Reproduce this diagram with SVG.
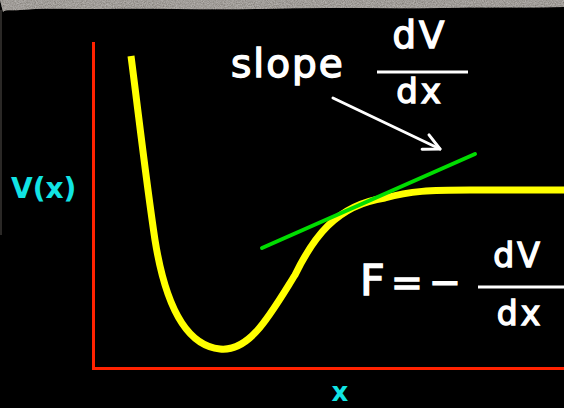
<svg xmlns="http://www.w3.org/2000/svg" width="564" height="408" viewBox="0 0 564 408">
  <defs>
    <filter id="grain" x="0" y="0" width="100%" height="100%">
      <feTurbulence type="fractalNoise" baseFrequency="0.9" numOctaves="2" seed="3" result="n"/>
      <feColorMatrix in="n" type="matrix" values="0 0 0 0 0.5  0 0 0 0 0.48  0 0 0 0 0.46  0 0 0 1.2 -0.1" result="c"/>
      <feComposite in="c" in2="SourceGraphic" operator="in" result="t"/>
      <feMerge><feMergeNode in="SourceGraphic"/><feMergeNode in="t"/></feMerge>
    </filter>
    <marker id="openhead" viewBox="0 0 20 20" refX="18" refY="10" markerWidth="20" markerHeight="20" markerUnits="userSpaceOnUse" orient="auto">
      <path d="M2,2 L18,10 L2,18" fill="none" stroke="#ffffff" stroke-width="3" stroke-linecap="round" stroke-linejoin="round"/>
    </marker>
    <style>
      .axis { fill: none; stroke: #ff2200; stroke-width: 3; }
      .curve { fill: none; stroke: #ffff00; stroke-width: 7; stroke-linejoin: round; }
      .tangent { fill: none; stroke: #00dd00; stroke-width: 4; stroke-linecap: round; }
      .pointer { fill: none; stroke: #ffffff; stroke-width: 3; stroke-linecap: round; }
      .bar { fill: none; stroke: #ffffff; stroke-width: 3; }
      .wt { fill: #ffffff; stroke: #ffffff; stroke-width: 1.4; font-family: "DejaVu Sans", "Liberation Sans", sans-serif; }
      .cy { fill: #11e4e4; font-family: "DejaVu Sans", "Liberation Sans", sans-serif; font-weight: bold; }
    </style>
  </defs>

  <rect x="0" y="0" width="564" height="408" fill="#000000"/>
  <g id="border">
    <path d="M0,0 H564 V7 C520,8 480,7 440,8 C380,9 320,7 260,9 C200,10 150,8 100,9 C60,9 40,8 20,10 C12,11 6,9 3,12 Z" fill="#7f7a75" filter="url(#grain)"/>
    <rect x="0" y="10" width="2" height="225" fill="#2a2826"/>
  </g>

  <g id="axes">
    <path class="axis" d="M93.5,42 V368.5 H564"/>
  </g>

  <g id="potential-curve">
    <path class="curve" d="M131,56 C138,110 146,180 155,240 C163,290 180,345 220,349 C250,352 270,315 295,275 C312,240 335,205 385,198 C410,191 430,190 470,190 L564,190"/>
  </g>

  <g id="connectors">
    <line class="tangent" x1="262" y1="248" x2="475" y2="154"/>
    <line class="pointer" x1="333" y1="98" x2="440" y2="149" marker-end="url(#openhead)"/>
  </g>

  <g id="label-vx">
    <text class="cy" x="11" y="198" font-size="28">V(x)</text>
  </g>
  <g id="label-x">
    <text class="cy" x="340" y="401" font-size="26" text-anchor="middle">x</text>
  </g>

  <g id="slope-label">
    <text class="wt" x="231" y="77" font-size="39" letter-spacing="2">slope</text>
    <text class="wt" x="420" y="48" font-size="37" text-anchor="middle" letter-spacing="3">dV</text>
    <line class="bar" x1="377" y1="72" x2="468" y2="72"/>
    <text class="wt" x="420" y="103" font-size="34" text-anchor="middle" letter-spacing="3">dx</text>
  </g>

  <g id="force-label">
    <text class="wt" x="360" y="295" font-size="43">F</text>
    <text class="wt" x="391" y="295" font-size="38">=</text>
    <text class="wt" x="429" y="295" font-size="38">−</text>
    <line class="bar" x1="478" y1="287" x2="564" y2="287"/>
    <text class="wt" x="518" y="267" font-size="33" text-anchor="middle" letter-spacing="3">dV</text>
    <text class="wt" x="520" y="325" font-size="33" text-anchor="middle" letter-spacing="3">dx</text>
  </g>
</svg>
